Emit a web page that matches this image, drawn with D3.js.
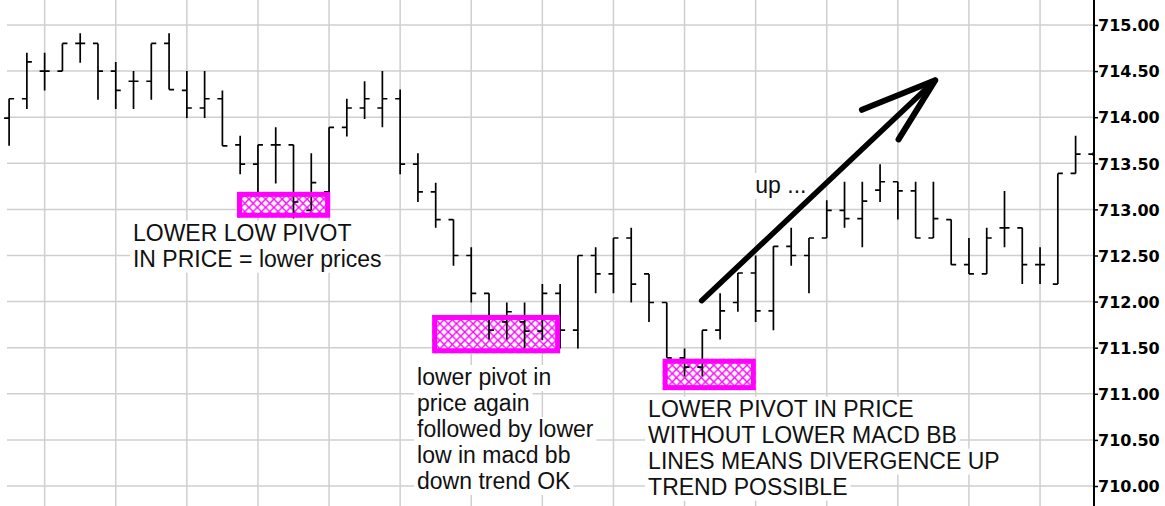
<!DOCTYPE html>
<html><head><meta charset="utf-8">
<script src="https://cdn.jsdelivr.net/npm/d3@7"></script>
<style>html,body{margin:0;padding:0;background:#fff;overflow:hidden}</style>
</head><body><svg id="c" width="1165" height="506"></svg>
<script>
// ---- data ----
const barIndex = d3.range(62);
const openPrice = [713.99,714.20,714.50,714.50,714.80,714.80,714.50,714.39,714.39,714.80,
  714.29,714.10,714.20,713.70,713.49,713.70,713.70,712.99,713.19,713.89,
  714.10,714.10,714.20,713.49,713.19,712.89,712.50,712.09,711.78,711.78,
  711.68,712.09,711.69,712.50,712.30,712.69,712.30,711.99,711.39,711.29,
  711.69,711.99,712.31,711.90,712.60,712.50,712.69,712.99,712.90,713.21,
  713.30,713.20,712.69,712.89,712.40,712.30,712.80,712.80,712.40,712.19,
  713.39,713.60];
const highPrice = [714.20,714.70,714.70,714.80,714.91,714.80,714.60,714.50,714.80,714.91,
  714.50,714.50,714.29,713.80,713.70,713.89,713.70,713.61,713.89,714.20,
  714.39,714.50,714.30,713.61,713.29,712.89,712.59,712.09,711.99,711.99,
  712.19,712.19,712.50,712.59,712.69,712.80,712.30,711.99,711.49,711.69,
  712.09,712.31,712.50,712.60,712.80,712.69,713.10,713.30,713.30,713.49,
  713.30,713.30,713.30,712.89,712.69,712.80,713.20,712.80,712.59,713.39,
  713.80,713.62];
const lowPrice = [713.69,714.09,714.29,714.50,714.59,714.19,714.09,714.09,714.19,714.30,
  713.99,713.99,713.69,713.38,713.18,713.28,712.90,712.99,713.19,713.79,
  713.98,713.89,713.38,713.08,712.80,712.39,711.99,711.59,711.59,711.49,
  711.58,711.49,711.49,712.09,712.09,711.99,711.78,711.39,711.19,711.19,
  711.59,711.89,711.78,711.69,712.39,712.09,712.69,712.80,712.59,713.08,
  712.89,712.69,712.69,712.40,712.30,712.30,712.59,712.19,712.19,712.19,
  713.39,713.58];
const closePrice = [714.20,714.60,714.50,714.80,714.80,714.50,714.29,714.39,714.80,714.30,
  714.10,714.20,713.69,713.49,713.70,713.70,713.08,713.29,713.89,714.10,
  714.20,714.20,713.49,713.19,712.89,712.50,712.09,711.69,711.89,711.68,
  712.09,711.69,712.50,712.30,712.69,712.19,711.99,711.39,711.29,711.69,
  711.90,712.31,711.90,712.60,712.50,712.69,712.99,712.90,713.09,713.30,
  713.20,712.69,712.90,712.40,712.30,712.69,712.80,712.40,712.40,713.39,
  713.60,713.60];
const yTickValues = [710,710.5,711,711.5,712,712.5,713,713.5,714,714.5,715];
const gridBarIndex = [2,6,10,14,18,22,26,30,34,38,42,46,50,54,58];

// annotation boxes (bar index / price space)
const boxX0 = [12.82, 23.8, 36.77];
const boxX1 = [18.06, 31.0, 42.01];
const boxTop = [713.19, 711.855, 711.38];
const boxBottom = [712.91, 711.44, 711.04];

// annotation texts
const noteLines = [
  ["LOWER LOW PIVOT", "IN PRICE = lower prices"],
  ["lower pivot in", "price again", "followed by lower", "low in macd bb", "down trend OK"],
  ["LOWER PIVOT IN PRICE", "WITHOUT LOWER MACD BB", "LINES MEANS DIVERGENCE UP", "TREND POSSIBLE"],
  ["up ..."]
];
const noteX = [6.97, 22.95, 35.95, 41.98];
const noteY = [712.661, 711.095, 710.752, 713.178];

// arrow (bar index / price space)
const arrowShaft = [[38.96, 712.01], [52.1, 714.40]];
const arrowBarbs = [[47.98, 714.08], [50.04, 713.76]];

// ---- chart ----
const W = 1165, H = 506;
const axisX = 1094;
const svg = d3.select("#c");
const x = d3.scaleLinear().domain([0, 60]).range([9.1, 1075.6]);
const y = d3.scaleLinear().domain([710, 715]).range([486, 25]);

svg.append("rect").attr("width", W).attr("height", H).attr("fill", "#fff");

const defs = svg.append("defs");
const pat = defs.append("pattern").attr("id", "hatch").attr("patternUnits", "userSpaceOnUse")
  .attr("width", 8.3).attr("height", 8.3);
pat.append("rect").attr("width", 8.3).attr("height", 8.3).attr("fill", "#fff");
pat.append("path").attr("d", "M-1,-1 L9.3,9.3 M9.3,-1 L-1,9.3")
  .attr("stroke", "#ff00ff").attr("stroke-width", 1.4).attr("fill", "none");
defs.append("clipPath").attr("id", "plotClip").append("rect")
  .attr("x", 0).attr("y", 0).attr("width", axisX - 1).attr("height", H);

// grid
const grid = svg.append("g").attr("stroke", "#cfcfcf").attr("stroke-width", 1.5);
grid.selectAll("line.h").data(yTickValues).join("line").attr("class", "h")
  .attr("x1", 7).attr("x2", axisX).attr("y1", d => y(d)).attr("y2", d => y(d));
grid.selectAll("line.v").data(gridBarIndex).join("line").attr("class", "v")
  .attr("x1", d => x(d)).attr("x2", d => x(d)).attr("y1", 0).attr("y2", H);

// box fills
const boxes = d3.range(boxX0.length);
svg.append("g").selectAll("rect").data(boxes).join("rect")
  .attr("x", i => x(boxX0[i])).attr("y", i => y(boxTop[i]))
  .attr("width", i => x(boxX1[i]) - x(boxX0[i]))
  .attr("height", i => y(boxBottom[i]) - y(boxTop[i]))
  .attr("fill", "url(#hatch)");

// OHLC bars
const tick = 5;
svg.append("g").attr("clip-path", "url(#plotClip)")
  .selectAll("path").data(barIndex).join("path")
  .attr("d", i => {
    const cx = x(i);
    return `M${cx},${y(highPrice[i])}V${y(lowPrice[i])}` +
      `M${cx - tick},${y(openPrice[i])}H${cx}` +
      `M${cx},${y(closePrice[i])}H${cx + tick}`;
  })
  .attr("fill", "none").attr("stroke", "#000").attr("stroke-width", 1.7);

// box borders
const bw = 5;
svg.append("g").selectAll("rect").data(boxes).join("rect")
  .attr("x", i => x(boxX0[i]) + bw / 2).attr("y", i => y(boxTop[i]) + bw / 2)
  .attr("width", i => x(boxX1[i]) - x(boxX0[i]) - bw)
  .attr("height", i => y(boxBottom[i]) - y(boxTop[i]) - bw)
  .attr("fill", "none").attr("stroke", "#ff00ff").attr("stroke-width", bw);

// notes
const lineGap = 26, fontSize = 23;
noteLines.forEach((lines, k) => {
  const g = svg.append("g");
  lines.forEach((t, j) => {
    const bx = x(noteX[k]), by = y(noteY[k]) + j * lineGap;
    const bg = g.append("rect").attr("fill", "#fff");
    const tx = g.append("text").attr("x", bx).attr("y", by)
      .attr("font-family", "'Liberation Sans', Arial, sans-serif")
      .attr("font-size", fontSize).attr("fill", "#111").text(t);
    const len = tx.node().getComputedTextLength();
    bg.attr("x", bx - 3).attr("y", by - 20).attr("width", len + 6).attr("height", lineGap);
  });
});

// axis
const axis = d3.axisRight(y).tickValues(yTickValues).tickSize(4).tickPadding(0)
  .tickFormat(d3.format(".2f"));
const ag = svg.append("g").attr("transform", `translate(${axisX},0)`).call(axis);
ag.select(".domain").remove();
ag.selectAll(".tick line").attr("stroke", "#000").attr("stroke-width", 1.5);
ag.selectAll(".tick text").attr("font-family", "'DejaVu Sans', sans-serif")
  .attr("font-weight", "bold").attr("font-size", 16).attr("fill", "#000").attr("dy", "0.36em");
svg.append("line").attr("x1", axisX).attr("x2", axisX).attr("y1", 0).attr("y2", H)
  .attr("stroke", "#000").attr("stroke-width", 2);

// arrow
const ap = svg.append("g").attr("stroke", "#000").attr("fill", "none")
  .attr("stroke-linecap", "round").attr("stroke-linejoin", "round");
const tip = arrowShaft[1];
ap.append("path").attr("stroke-width", 5.5)
  .attr("d", `M${x(arrowShaft[0][0])},${y(arrowShaft[0][1])}L${x(tip[0])},${y(tip[1])}`);
ap.append("path").attr("stroke-width", 6)
  .attr("d", arrowBarbs.map(b => `M${x(b[0])},${y(b[1])}L${x(tip[0])},${y(tip[1])}`).join(""));
</script></body></html>
